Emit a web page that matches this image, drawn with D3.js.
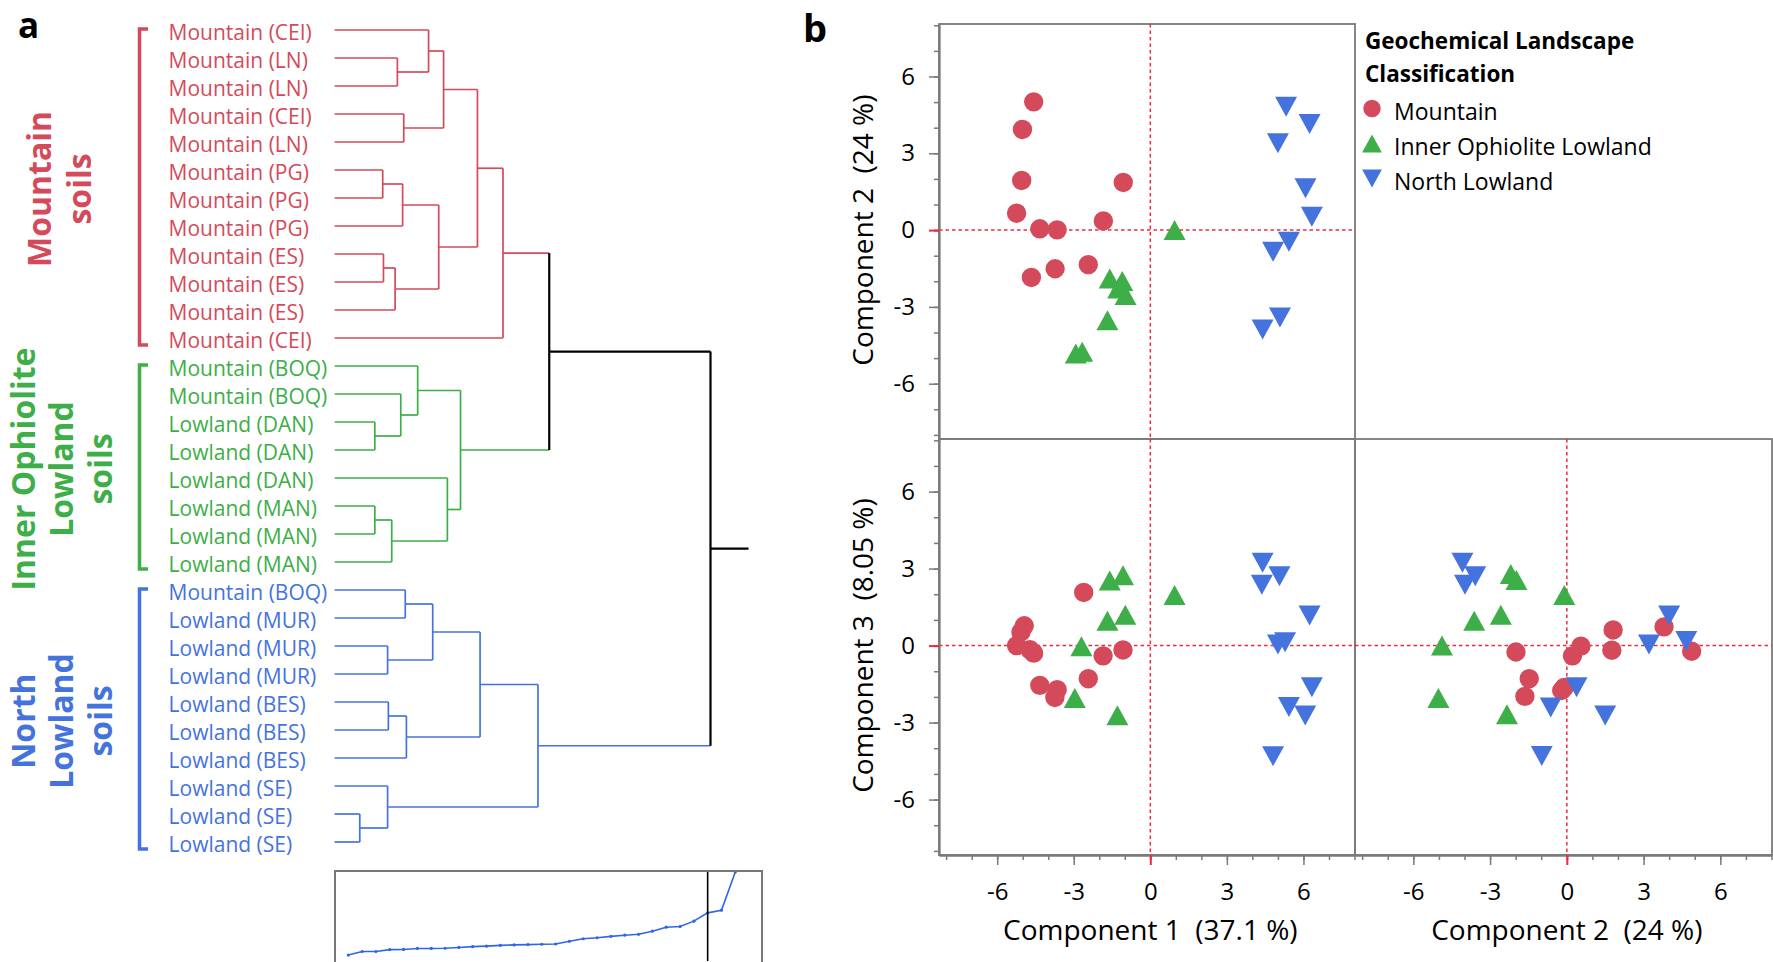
<!DOCTYPE html>
<html>
<head>
<meta charset="utf-8">
<script src="https://cdn.jsdelivr.net/npm/d3@7"></script>
<style>
body { margin: 0; background: #fff; }
svg { font-family: "Open Sans", sans-serif; }
</style>
</head>
<body>
<div id="chart-area"></div>
<script>
/*
*    dendrogram + PCA scatter matrix
*/

// ---- data ----
var leafNames = ["Mountain (CEI)", "Mountain (LN)", "Mountain (LN)", "Mountain (CEI)", "Mountain (LN)",
	"Mountain (PG)", "Mountain (PG)", "Mountain (PG)", "Mountain (ES)", "Mountain (ES)", "Mountain (ES)",
	"Mountain (CEI)", "Mountain (BOQ)", "Mountain (BOQ)", "Lowland (DAN)", "Lowland (DAN)", "Lowland (DAN)",
	"Lowland (MAN)", "Lowland (MAN)", "Lowland (MAN)", "Mountain (BOQ)", "Lowland (MUR)", "Lowland (MUR)",
	"Lowland (MUR)", "Lowland (BES)", "Lowland (BES)", "Lowland (BES)", "Lowland (SE)", "Lowland (SE)", "Lowland (SE)"];
var leafGroups = [0,0,0,0,0,0,0,0,0,0,0,0, 1,1,1,1,1,1,1,1, 2,2,2,2,2,2,2,2,2,2];

// linkage: [child a, child b, distance], new cluster ids start at 30
var merges = [
	[28, 29, 6.7], [14, 15, 10.7], [17, 18, 10.7], [5, 6, 12.8], [8, 9, 13.0],
	[22, 23, 14.1], [27, 30, 14.1], [24, 25, 14.3], [32, 19, 15.2], [34, 10, 16.1],
	[1, 2, 16.7], [13, 31, 17.6], [33, 7, 18.1], [3, 4, 18.4], [20, 21, 18.8],
	[37, 26, 19.1], [12, 41, 22.1], [0, 40, 25.0], [44, 35, 26.1], [42, 39, 27.7],
	[47, 43, 29.0], [16, 38, 30.0], [46, 51, 33.5], [50, 49, 38.0], [48, 45, 38.7],
	[53, 11, 44.8], [54, 36, 54.1], [55, 52, 57.1], [57, 56, 100]
];
var cutIndex = 26;

var groupNames = ["Mountain", "Inner Ophiolite Lowland", "North Lowland"];
var groupLabelLines = [["Mountain", "soils"], ["Inner Ophiolite", "Lowland", "soils"], ["North", "Lowland", "soils"]];
var groupColors = ["#d44a5a", "#3dae48", "#4573de"];

var axisTicks = [-6, -3, 0, 3, 6];
var minorTicks = d3.range(-8, 9);

// component 1 vs component 2
var pc12Mountain = [[-4.57,5.01],[-5.01,3.93],[-5.04,1.94],[-1.06,1.86],[-5.24,0.66],[-4.33,0.05],
	[-3.65,0.01],[-1.84,0.36],[-4.66,-1.85],[-3.73,-1.51],[-2.43,-1.35]];
var pc12Inner = [[0.95,0.0],[-1.59,-1.89],[-1.10,-1.99],[-1.26,-2.28],[-0.97,-2.54],[-1.68,-3.52],
	[-2.92,-4.82],[-2.67,-4.75]];
var pc12North = [[5.32,4.82],[6.24,4.14],[5.0,3.39],[6.08,1.63],[6.33,0.52],[5.43,-0.46],[4.81,-0.85],
	[5.08,-3.41],[4.40,-3.88]];

// component 1 vs component 3
var pc13Mountain = [[-2.61,2.07],[-4.94,0.77],[-5.07,0.53],[-5.24,0.0],[-4.72,-0.16],[-4.57,-0.29],
	[-1.85,-0.40],[-1.07,-0.17],[-4.33,-1.55],[-3.65,-1.72],[-3.74,-2.02],[-2.43,-1.29]];
var pc13Inner = [[-1.59,2.54],[-1.07,2.74],[-1.68,0.97],[-0.98,1.20],[-2.70,-0.03],[0.95,1.97],
	[-2.96,-2.04],[-1.29,-2.71]];
var pc13North = [[4.40,3.23],[5.06,2.70],[4.37,2.37],[6.24,1.17],[5.0,0.04],[5.28,0.13],[6.33,-1.62],
	[5.43,-2.39],[6.07,-2.72],[4.81,-4.31]];

// component 2 vs component 3
var pc23Mountain = [[1.81,0.61],[3.80,0.73],[4.88,-0.22],[1.76,-0.18],[-1.99,-0.25],[-1.47,-1.29],
	[-1.64,-1.98],[-0.10,-1.63],[-0.20,-1.75],[0.22,-0.40],[0.55,-0.02]];
var pc23Inner = [[-2.19,2.79],[-1.97,2.56],[-0.10,1.97],[-3.62,0.97],[-2.58,1.20],[-4.88,0.0],
	[-5.02,-2.04],[-2.34,-2.68]];
var pc23North = [[-4.08,3.23],[-3.58,2.70],[-3.98,2.37],[4.0,1.17],[3.21,0.04],[4.67,0.18],[0.38,-1.62],
	[-0.63,-2.41],[1.50,-2.72],[-0.98,-4.30]];

// ---- svg ----
var svg = d3.select("#chart-area").append("svg").attr("width", 1773).attr("height", 962);

svg.append("text").attr("x", 18).attr("y", 37.5)
	.attr("font-size", "35px").attr("font-weight", "bold").text("a");
svg.append("text").attr("x", 803).attr("y", 41.5)
	.attr("font-size", "38px").attr("font-weight", "bold").text("b");

// ---- dendrogram ----
var nLeaves = leafNames.length;
function buildNode(id) {
	if (id < nLeaves) return {id: id, h: 0};
	var m = merges[id - nLeaves];
	return {id: id, h: m[2], children: [buildNode(m[0]), buildNode(m[1])]};
}
var root = d3.hierarchy(buildNode(nLeaves + merges.length - 1));

var leafY = d3.scaleLinear().domain([0, nLeaves - 1]).range([30, 842]);
var distX = d3.scaleLinear().domain([0, 100]).range([334.6, 710.5]);

root.leaves().forEach((d, i) => {
	d.y = leafY(i);
	d.group = leafGroups[d.data.id];
});
root.eachAfter(d => {
	d.x = distX(d.data.h);
	if (d.children) {
		d.y = (d.children[0].y + d.children[1].y) / 2;
		d.group = d.children[0].group === d.children[1].group ? d.children[0].group : -1;
	}
});

var dg = svg.append("g").attr("fill", "none");
function col(d) { return d.group >= 0 ? groupColors[d.group] : "#000"; }
function wid(d) { return d.group >= 0 ? 1.7 : 2.2; }

root.descendants().filter(d => d.parent).forEach(d => {
	dg.append("line")
		.attr("x1", d.x).attr("x2", d.parent.x)
		.attr("y1", d.y).attr("y2", d.y)
		.attr("stroke", col(d)).attr("stroke-width", wid(d));
});
root.descendants().filter(d => d.children).forEach(d => {
	dg.append("line")
		.attr("x1", d.x).attr("x2", d.x)
		.attr("y1", d.children[0].y).attr("y2", d.children[1].y)
		.attr("stroke", col(d)).attr("stroke-width", wid(d));
});
dg.append("line")
	.attr("x1", root.x).attr("x2", root.x + 38)
	.attr("y1", root.y).attr("y2", root.y)
	.attr("stroke", "#000").attr("stroke-width", 2.2);

svg.append("g").selectAll("text").data(root.leaves()).enter().append("text")
	.attr("x", 168.6)
	.attr("y", d => d.y + 10)
	.attr("font-size", "21px")
	.attr("fill", d => groupColors[d.group])
	.text(d => leafNames[d.data.id]);

// brackets + group labels
groupNames.forEach((name, gi) => {
	var ys = root.leaves().filter(d => d.group === gi).map(d => d.y);
	var top = d3.min(ys) - 1, bottom = d3.max(ys) + 7;
	svg.append("path")
		.attr("d", "M148," + top + "H139.5V" + bottom + "H148")
		.attr("fill", "none").attr("stroke", groupColors[gi]).attr("stroke-width", 3.5);

	var lines = groupLabelLines[gi];
	var cy = (d3.min(ys) + d3.max(ys)) / 2 + 5;
	var step = lines.length > 2 ? 38.5 : 40.5;
	var center = lines.length > 2 ? 73 : 71;
	lines.forEach((t, k) => {
		var x = center + (k - (lines.length - 1) / 2) * step;
		svg.append("text")
			.attr("transform", "translate(" + x + "," + cy + ") rotate(-90)")
			.attr("text-anchor", "middle")
			.attr("font-size", "32px").attr("font-weight", "bold")
			.attr("fill", groupColors[gi])
			.text(t);
	});
});

// inset: merge distance curve
var insetX = d3.scaleLinear().domain([0, merges.length - 1]).range([348.3, 735.3]);
var insetY = d3.scaleLinear().domain([0, 100]).range([961, 872]);
var inset = svg.append("g");
inset.append("clipPath").attr("id", "inset-clip").append("rect")
	.attr("x", 335).attr("y", 872).attr("width", 426).attr("height", 89);
var ig = inset.append("g").attr("clip-path", "url(#inset-clip)");
ig.append("path")
	.datum(merges)
	.attr("fill", "none").attr("stroke", "#2f66e8").attr("stroke-width", 1.6)
	.attr("d", d3.line().x((d, i) => insetX(i)).y(d => insetY(d[2])));
ig.selectAll("circle").data(merges).enter().append("circle")
	.attr("cx", (d, i) => insetX(i)).attr("cy", d => insetY(d[2]))
	.attr("r", 1.6).attr("fill", "#2f66e8");
ig.append("line")
	.attr("x1", insetX(cutIndex)).attr("x2", insetX(cutIndex))
	.attr("y1", 872).attr("y2", 962)
	.attr("stroke", "#000").attr("stroke-width", 1.6);
inset.append("rect")
	.attr("x", 335).attr("y", 871).attr("width", 427).attr("height", 92)
	.attr("fill", "none").attr("stroke", "#777").attr("stroke-width", 2);

// ---- scatter matrix ----
var axisY = 855;
var colRange = [[939, 1355], [1355, 1772]];
var rowRange = [[439, 24], [axisY, 439]];
var xs = colRange.map(r => d3.scaleLinear().domain([-8.28, 8.02]).range(r));
var ys = rowRange.map(r => d3.scaleLinear().domain([-8.16, 8.05]).range(r));

var markerPaths = [
	d3.symbol().type(d3.symbolCircle).size(Math.PI * 9.7 * 9.7)(),
	"M0,-10L11,10L-11,10Z",
	"M0,10L11,-10L-11,-10Z"
];

var panels = [
	{c: 0, r: 0, sets: [pc12Mountain, pc12Inner, pc12North]},
	{c: 0, r: 1, sets: [pc13Mountain, pc13Inner, pc13North]},
	{c: 1, r: 1, sets: [pc23Mountain, pc23Inner, pc23North]}
];

panels.forEach(p => {
	var x = xs[p.c], y = ys[p.r];
	var g = svg.append("g");
	g.append("rect")
		.attr("x", x.range()[0]).attr("y", y.range()[1])
		.attr("width", x.range()[1] - x.range()[0]).attr("height", y.range()[0] - y.range()[1])
		.attr("fill", "none").attr("stroke", "#7a7a7a").attr("stroke-width", 1.8);
	g.append("line")
		.attr("x1", x.range()[0]).attr("x2", x.range()[1]).attr("y1", y(0)).attr("y2", y(0))
		.attr("stroke", "#ee2a40").attr("stroke-width", 1.5).attr("stroke-dasharray", "3.5,3");
	g.append("line")
		.attr("x1", x(0)).attr("x2", x(0)).attr("y1", y.range()[1]).attr("y2", y.range()[0])
		.attr("stroke", "#ee2a40").attr("stroke-width", 1.5).attr("stroke-dasharray", "3.5,3");
	p.sets.forEach((pts, gi) => {
		g.append("g").selectAll("path").data(pts).enter().append("path")
			.attr("d", markerPaths[gi])
			.attr("transform", d => "translate(" + x(d[0]) + "," + y(d[1]) + ")")
			.attr("fill", groupColors[gi]);
	});
});

function styleAxis(sel) {
	sel.select(".domain").attr("stroke", "#7a7a7a").attr("stroke-width", 1.8);
	sel.selectAll(".tick line").attr("stroke", "#7a7a7a").attr("stroke-width", 1.5);
	sel.selectAll(".tick").filter(d => d === 0).select("line").attr("stroke", "#ee2a40").attr("stroke-width", 2);
	sel.selectAll(".tick text").attr("fill", "#000").attr("font-size", "24px").attr("font-family", "Open Sans");
}

ys.forEach(y => {
	svg.append("g").attr("transform", "translate(939,0)")
		.call(d3.axisLeft(y).tickValues(minorTicks).tickSize(5).tickSizeOuter(0).tickFormat(""))
		.call(styleAxis);
	svg.append("g").attr("transform", "translate(939,0)")
		.call(d3.axisLeft(y).tickValues(axisTicks).tickSize(10).tickSizeOuter(0).tickPadding(14).tickFormat(d => String(d)))
		.call(styleAxis);
});
xs.forEach(x => {
	svg.append("g").attr("transform", "translate(0," + axisY + ")")
		.call(d3.axisBottom(x).tickValues(minorTicks).tickSize(5).tickSizeOuter(0).tickFormat(""))
		.call(styleAxis);
	svg.append("g").attr("transform", "translate(0," + axisY + ")")
		.call(d3.axisBottom(x).tickValues(axisTicks).tickSize(10).tickSizeOuter(0).tickPadding(18).tickFormat(d => String(d)))
		.call(styleAxis);
});

// axis titles
var titleStyle = "white-space: pre";
svg.append("text").attr("x", xs[0](0)).attr("y", 940).attr("text-anchor", "middle")
	.attr("font-size", "28px").attr("style", titleStyle).text("Component 1  (37.1 %)");
svg.append("text").attr("x", xs[1](0)).attr("y", 940).attr("text-anchor", "middle")
	.attr("font-size", "28px").attr("style", titleStyle).text("Component 2  (24 %)");
svg.append("text").attr("transform", "translate(873," + ys[0](0) + ") rotate(-90)")
	.attr("text-anchor", "middle").attr("font-size", "28px").attr("style", titleStyle).text("Component 2  (24 %)");
svg.append("text").attr("transform", "translate(873," + ys[1](0) + ") rotate(-90)")
	.attr("text-anchor", "middle").attr("font-size", "28px").attr("style", titleStyle).text("Component 3  (8.05 %)");

// legend
var legend = svg.append("g").attr("transform", "translate(1365,0)");
legend.append("text").attr("x", 0).attr("y", 49).attr("font-size", "22.5px").attr("font-weight", "bold")
	.text("Geochemical Landscape");
legend.append("text").attr("x", 0).attr("y", 82).attr("font-size", "22.5px").attr("font-weight", "bold")
	.text("Classification");
groupNames.forEach((name, gi) => {
	var cy = 108.5 + gi * 35;
	legend.append("path").attr("d", markerPaths[gi])
		.attr("transform", "translate(7," + cy + ") scale(0.9)")
		.attr("fill", groupColors[gi]);
	legend.append("text").attr("x", 29).attr("y", cy + 11.5).attr("font-size", "23px").text(name);
});
</script>
</body>
</html>
